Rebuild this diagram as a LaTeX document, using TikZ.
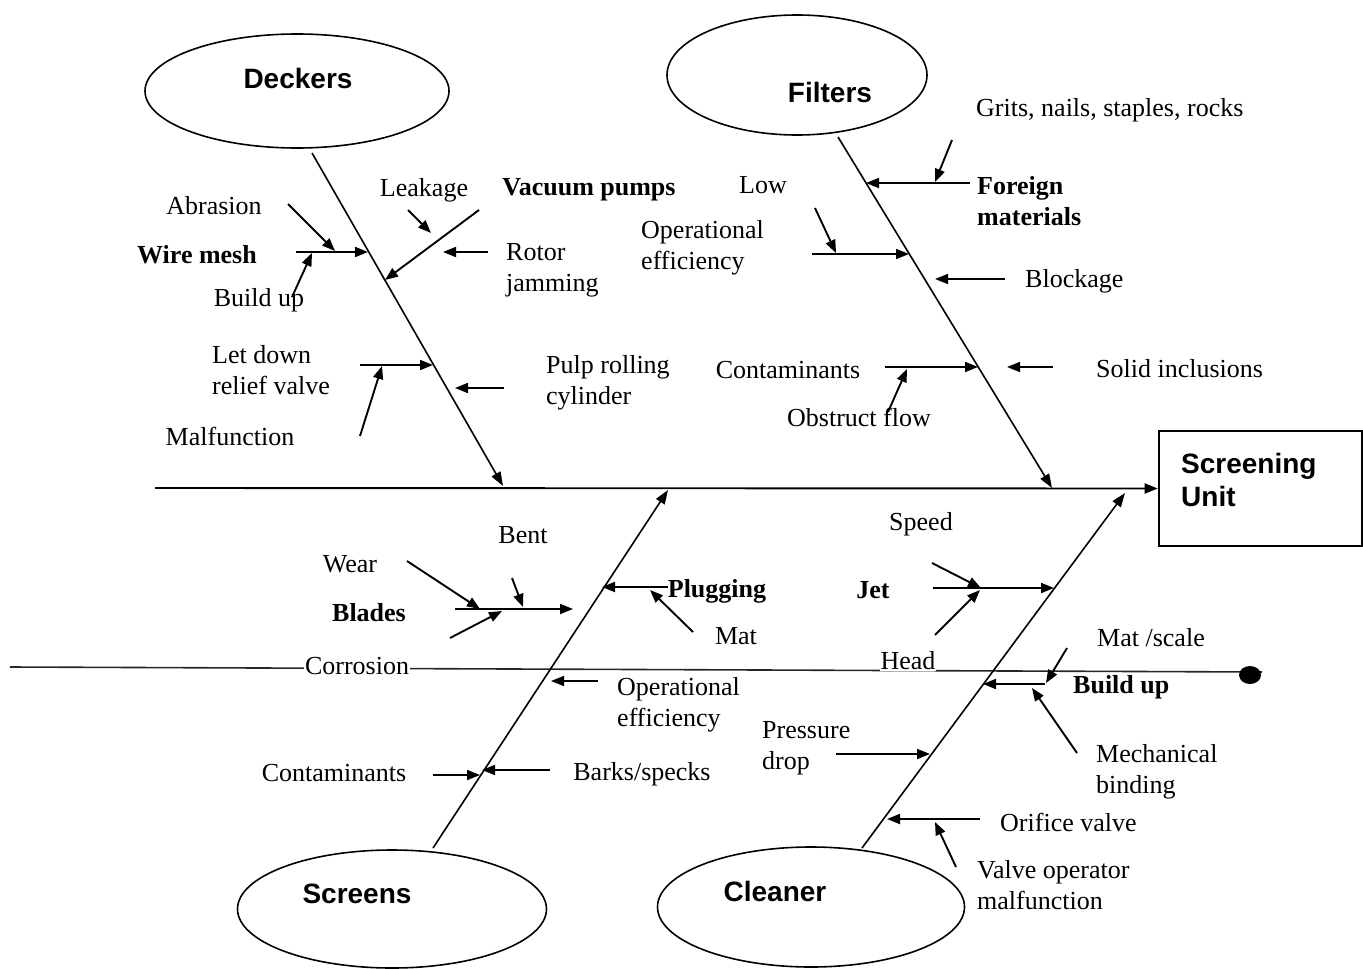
\documentclass[tikz,border=0pt]{standalone}
\usepackage{fontspec}
\setmainfont{Liberation Serif}
\newfontfamily\headfont{Liberation Sans}
\usetikzlibrary{arrows.meta,shapes.geometric}

\tikzset{
  lbl/.style={font=\fontsize{26}{31}\selectfont, inner sep=1pt, align=left},
  blbl/.style={lbl, font=\fontsize{26}{31}\selectfont\bfseries},
  head/.style={font=\headfont\fontsize{28}{33}\selectfont\bfseries, inner sep=0pt, align=left},
  cause/.style={draw, ellipse, line width=1.6pt, inner sep=0pt},
  arr/.style={-{Triangle[length=13pt,width=10pt]}, line width=1.9pt},
  bone/.style={-{Triangle[length=14pt,width=10pt]}, line width=1.6pt},
  scanline/.style={line width=1.6pt, black!85}
}

\begin{document}
\begin{tikzpicture}[x=1pt,y=-1pt]
\useasboundingbox (0,0) rectangle (1363,969);

% faint horizontal rule across the lower half
\coordinate (sl0) at (10,667);
\coordinate (sl1) at (1262,672);
\draw[scanline] (sl0) -- (sl1);
\fill (1250,675) ellipse [x radius=11, y radius=9];

% effect box
\node[draw, line width=2.6pt, minimum width=203pt, minimum height=115pt, inner sep=0pt] (unit) at (1260.5,488.5) {};
\node[head, anchor=west] (unitt) at (1181,480) {Screening\\Unit};

% cause ellipses
\node[cause, minimum width=304pt, minimum height=114pt] (deckers) at (297,91) {};
\node[cause, minimum width=260pt, minimum height=120pt] (filters) at (797,75) {};
\node[cause, minimum width=309pt, minimum height=118pt] (screens) at (392,909) {};
\node[cause, minimum width=307pt, minimum height=120pt] (cleaner) at (811,907) {};
\node[head] (deckerst) at (298,78) {Deckers};
\node[head] (filterst) at (830,92) {Filters};
\node[head] (screenst) at (357,894) {Screens};
\node[head] (cleanert) at (775,891) {Cleaner};

% end points of all bones and arrows
\foreach \n/\x/\y in {
  sp0/155/488,
  d0/312/153, d1/503/486,
  wm0/296/252, wm1/368/252, ab0/288/204, ab1/335/251, bu0/292/297, bu1/312/253,
  lk0/408/210, lk1/431/233, vp0/479/210, vp1/385/280, rj0/488/252, rj1/443/252,
  ld0/360/365, ld1/433/365, mf0/360/436, mf1/382/366, pr0/504/388, pr1/455/388,
  f0/838/137, f1/1052/488,
  fm0/970/183, fm1/866/183, gr0/952/140, gr1/935/182,
  oe0/812/254, oe1/909/254, lo0/815/208, lo1/836/253,
  bl0/1005/279, bl1/935/279,
  ct0/885/367, ct1/978/367, of0/888/412, of1/907/369,
  si0/1053/367, si1/1007/367,
  s0/433/848, s1/668/490,
  pl0/668/587, pl1/602/587, mt0/693/632, mt1/650/590,
  bd0/455/609, bd1/573/609, we0/407/561, we1/480/609,
  be0/512/578, be1/523/607, co0/450/638, co1/502/611,
  so0/598/681, so1/551/681,
  sc0/433/775, sc1/480/775, bk0/550/770, bk1/482/770,
  c0/862/848, c1/1125/493,
  jt0/933/588, jt1/1054/588, spd0/932/563, spd1/981/588,
  hd0/935/635, hd1/980/590,
  bup0/1045/684, bup1/983/684, ms0/1067/648, ms1/1046/683,
  mb0/1077/753, mb1/1032/688,
  pd0/836/754, pd1/930/754,
  ov0/980/819, ov1/887/819, vo0/956/867, vo1/935/822}
  \coordinate (\n) at (\x,\y);

% spine and main bones
\draw[arr] (sp0) -- (unit.west);
\foreach \a/\b in {d0/d1, f0/f1, s0/s1, c0/c1}
  \draw[bone] (\a) -- (\b);

% sub-causes
\foreach \a/\b in {
  wm0/wm1, ab0/ab1, bu0/bu1, lk0/lk1, vp0/vp1, rj0/rj1,
  ld0/ld1, mf0/mf1, pr0/pr1,
  fm0/fm1, gr0/gr1, oe0/oe1, lo0/lo1, bl0/bl1, ct0/ct1, of0/of1, si0/si1,
  pl0/pl1, mt0/mt1, bd0/bd1, we0/we1, be0/be1, co0/co1, so0/so1, sc0/sc1, bk0/bk1,
  jt0/jt1, spd0/spd1, hd0/hd1, bup0/bup1, ms0/ms1, mb0/mb1, pd0/pd1, ov0/ov1, vo0/vo1}
  \draw[arr] (\a) -- (\b);

% labels: Deckers
\node[lbl] (abr) at (214,206) {Abrasion};
\node[blbl] (wire) at (197,255) {Wire mesh};
\node[lbl] (bup) at (259,300) {Build up};
\node[lbl] (leak) at (424,190) {Leakage};
\node[blbl] (vac) at (589,190) {Vacuum pumps};
\node[lbl, anchor=west] (rotor) at (505,270) {Rotor\\jamming};
\node[lbl, anchor=west] (letdown) at (211,370) {Let down\\relief valve};
\node[lbl] (malf) at (230,436) {Malfunction};
\node[lbl, anchor=west] (pulp) at (545,383) {Pulp rolling\\cylinder};

% labels: Filters
\node[lbl] (low) at (763,185) {Low};
\node[lbl, anchor=west] (opeff) at (640,248) {Operational\\efficiency};
\node[lbl, anchor=west] (grits) at (975,110) {Grits, nails, staples, rocks};
\node[blbl, anchor=west] (foreign) at (976,201) {Foreign\\materials};
\node[lbl, anchor=west] (block) at (1024,281) {Blockage};
\node[lbl] (contf) at (788,370) {Contaminants};
\node[lbl] (obst) at (859,417) {Obstruct flow};
\node[lbl, anchor=west] (solid) at (1095,369) {Solid inclusions};

% labels: Screens
\node[lbl] (bent) at (523,535) {Bent};
\node[lbl] (wear) at (350,564) {Wear};
\node[blbl] (blades) at (369,613) {Blades};
\node[blbl] (plug) at (717,591) {Plugging};
\node[lbl] (mat) at (736,636) {Mat};
\node[lbl, fill=white] (corr) at (357,666) {Corrosion};
\node[lbl, anchor=west] (opeffs) at (616,705) {Operational\\efficiency};
\node[lbl] (conts) at (334,773) {Contaminants};
\node[lbl] (barks) at (642,774) {Barks/specks};

% labels: Cleaner
\node[lbl] (speed) at (921,524) {Speed};
\node[blbl] (jet) at (873,590) {Jet};
\node[lbl, fill=white] (headl) at (908,661) {Head};
\node[lbl, anchor=west] (matsc) at (1096,638) {Mat /scale};
\node[blbl, anchor=west] (buildc) at (1072,687) {Build up};
\node[lbl, anchor=west] (mech) at (1095,772) {Mechanical\\binding};
\node[lbl, anchor=west] (press) at (761,748) {Pressure\\drop};
\node[lbl, anchor=west] (orif) at (999,822) {Orifice valve};
\node[lbl, anchor=west] (valve) at (976,885) {Valve operator\\malfunction};
\end{tikzpicture}
\end{document}
